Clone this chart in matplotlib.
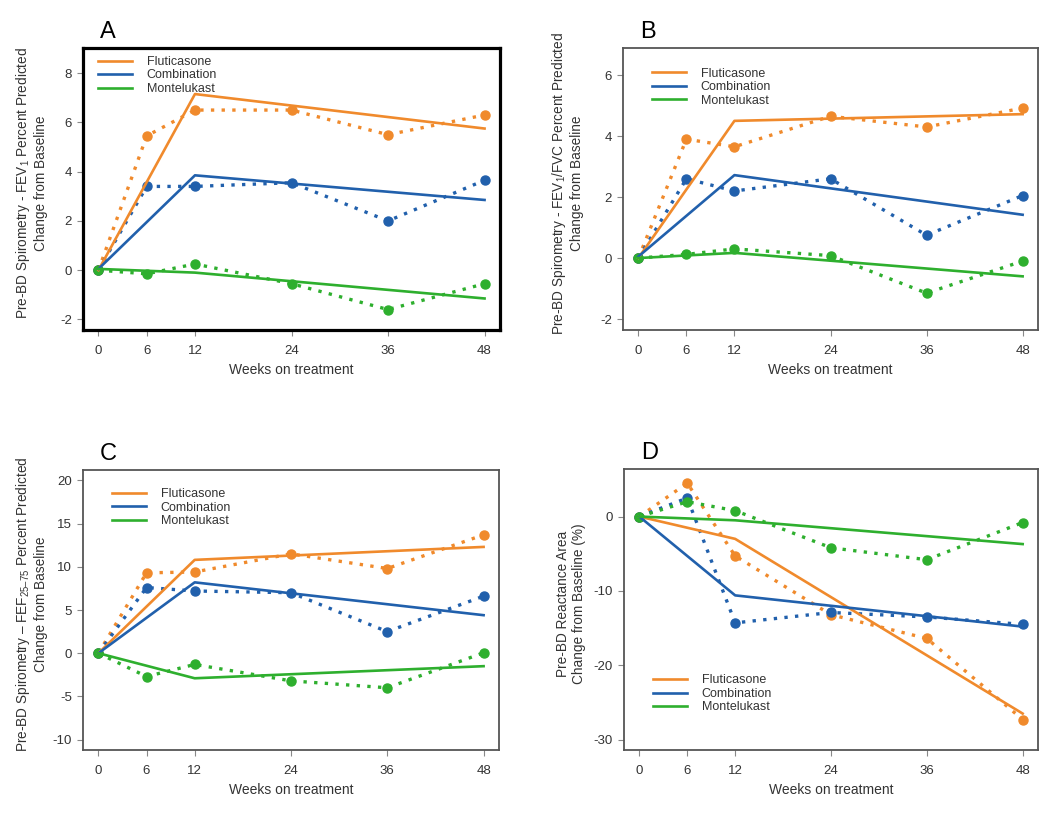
import matplotlib
matplotlib.use('Agg')
import matplotlib.pyplot as plt

plt.rcParams['font.family'] = ['Liberation Sans', 'DejaVu Sans']
plt.rcParams['mathtext.fontset'] = 'custom'
plt.rcParams['mathtext.rm'] = 'Liberation Sans'
plt.rcParams['mathtext.it'] = 'Liberation Sans'
plt.rcParams['axes.unicode_minus'] = False

weeks = [0, 6, 12, 24, 36, 48]
fit_weeks = [0, 12, 48]
groups = ['Fluticasone', 'Combination', 'Montelukast']
colors = ['#F08A2C', '#2160AC', '#2EAF2E']
xticks = [0, 6, 12, 24, 36, 48]

# Panel A - FEV1 % predicted
a_obs = [[0, 5.45, 6.5, 6.5, 5.5, 6.3],
         [0, 3.4, 3.4, 3.55, 2.0, 3.65],
         [0, -0.15, 0.25, -0.55, -1.6, -0.55]]
a_fit = [[0, 7.15, 5.75],
         [0.05, 3.85, 2.85],
         [0.05, -0.1, -1.15]]

# Panel B - FEV1/FVC % predicted
b_obs = [[0, 3.9, 3.65, 4.65, 4.3, 4.92],
         [0, 2.6, 2.2, 2.6, 0.75, 2.05],
         [0, 0.12, 0.3, 0.08, -1.15, -0.1]]
b_fit = [[0, 4.5, 4.72],
         [0.05, 2.72, 1.42],
         [0, 0.17, -0.6]]

# Panel C - FEF25-75 % predicted
c_obs = [[0, 9.3, 9.4, 11.5, 9.8, 13.7],
         [0, 7.6, 7.2, 7.0, 2.5, 6.6],
         [0, -2.7, -1.3, -3.2, -4.0, 0.05]]
c_fit = [[0, 10.8, 12.3],
         [0, 8.2, 4.4],
         [0, -2.9, -1.5]]

# Panel D - reactance area
d_obs = [[0, 4.5, -5.3, -13.2, -16.4, -27.3],
         [0, 2.5, -14.3, -12.9, -13.5, -14.5],
         [0, 2.0, 0.8, -4.2, -5.8, -0.8]]
d_fit = [[0, -3.0, -26.5],
         [0, -10.6, -14.8],
         [0, -0.5, -3.7]]

panels = [
    dict(letter='A', obs=a_obs, fit=a_fit, ylim=(-2.43, 9.02), yticks=[-2, 0, 2, 4, 6, 8],
         ylabel='Pre-BD Spirometry - FEV$_1$ Percent Predicted\nChange from Baseline',
         rect=[83, 48, 500, 330], leg=('upper left', (0.036, 0.972)), labx=-0.084, thick=True),
    dict(letter='B', obs=b_obs, fit=b_fit, ylim=(-2.36, 6.89), yticks=[-2, 0, 2, 4, 6],
         ylabel='Pre-BD Spirometry - FEV$_1$/FVC Percent Predicted\nChange from Baseline',
         rect=[623, 48, 1038, 330], leg=('upper left', (0.07, 0.93)), labx=-0.094, thick=False),
    dict(letter='C', obs=c_obs, fit=c_fit, ylim=(-11.2, 21.2), yticks=[-10, -5, 0, 5, 10, 15, 20],
         ylabel='Pre-BD Spirometry \u2013 FEF$_{25\u201375}$ Percent Predicted\nChange from Baseline',
         rect=[83, 470, 499, 750], leg=('upper left', (0.07, 0.935)), labx=-0.084, thick=False),
    dict(letter='D', obs=d_obs, fit=d_fit, ylim=(-31.4, 6.4), yticks=[-30, -20, -10, 0],
         ylabel='Pre-BD Reactance Area\nChange from Baseline (%)',
         rect=[624, 469, 1038, 750], leg=('lower left', (0.07, 0.13)), labx=-0.092, thick=False),
]

W, H = 1050, 813
fig = plt.figure(figsize=(W / 100, H / 100), dpi=100)

for p in panels:
    x0, y0, x1, y1 = p['rect']
    ax = fig.add_axes([x0 / W, 1 - y1 / H, (x1 - x0) / W, (y1 - y0) / H])
    for i, g in enumerate(groups):
        ax.plot(fit_weeks, p['fit'][i], color=colors[i], lw=1.9, label=g, zorder=3)
        ax.plot(weeks, p['obs'][i], color=colors[i], lw=2.4, ls=(0, (1, 2.2)),
                marker='o', ms=6.5, zorder=2)
    ax.set_xlim(-1.92, 49.92)
    ax.set_ylim(*p['ylim'])
    ax.set_xticks(xticks)
    ax.set_yticks(p['yticks'])
    ax.tick_params(direction='out', length=4, width=0.8, color='#888888',
                   labelsize=9.5, labelcolor='#333333', pad=4)
    ax.tick_params(axis='x', pad=7)
    ax.set_xlabel('Weeks on treatment', fontsize=10, color='#333333', labelpad=4)
    ax.set_ylabel(p['ylabel'], fontsize=9.8, color='#333333', linespacing=1.2)
    ax.yaxis.set_label_coords(p['labx'], 0.52)
    for s in ax.spines.values():
        if p['thick']:
            s.set_linewidth(2.3)
            s.set_color('black')
        else:
            s.set_linewidth(1.3)
            s.set_color('#555555')
    loc, anchor = p['leg']
    ax.legend(loc=loc, bbox_to_anchor=anchor, frameon=False, fontsize=9,
              handlelength=2.7, handletextpad=1.2, labelspacing=0.12,
              borderaxespad=0, borderpad=0, labelcolor='#333333')
    fig.text((x0 + 17) / W, 1 - (y0 - 10) / H, p['letter'], fontsize=17,
             ha='left', va='baseline')

fig.savefig('out.png', dpi=100)
